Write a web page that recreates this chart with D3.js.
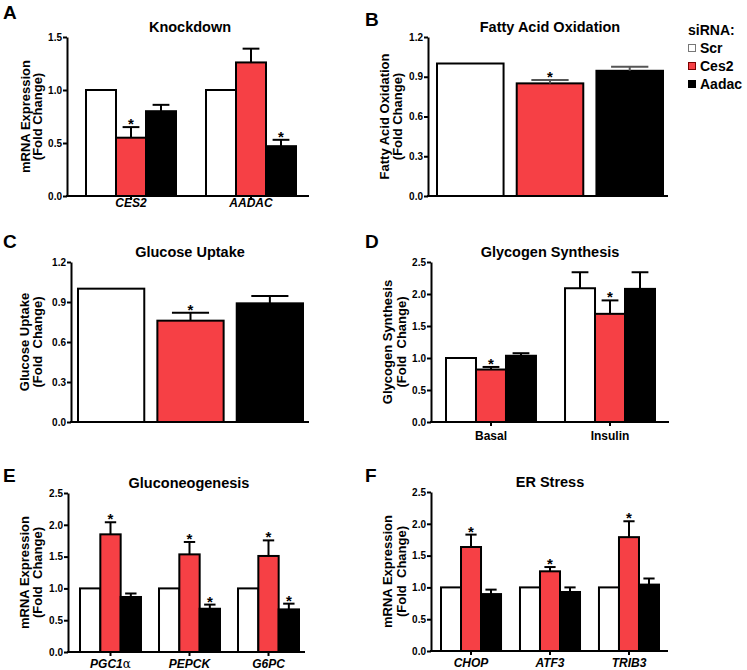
<!DOCTYPE html>
<html>
<head>
<meta charset="utf-8">
<script src="https://cdn.jsdelivr.net/npm/d3@7"></script>
<style>
body { margin: 0; background: #fff; }
svg text { font-family: "Liberation Sans", Arial, sans-serif; font-weight: bold; fill: #000; }
</style>
</head>
<body>
<div id="chart"></div>
<script>
// siRNA groups
const series = ["Scr", "Ces2", "Aadac"]
const fills = ["#ffffff", "#f64045", "#000000"]

// A - knockdown
const kdGenes = ["CES2", "AADAC"]
const kdMean = [[1.0, 0.55, 0.80], [1.0, 1.26, 0.47]]
const kdErr = [[0, 0.10, 0.06], [0, 0.13, 0.06]]
const kdSig = [[0, 1, 0], [0, 0, 1]]
const kdTicks = [0, 0.5, 1.0, 1.5]

// B - fatty acid oxidation
const faoMean = [[1.0, 0.85, 0.945]]
const faoErr = [[0, 0.025, 0.03]]
const faoSig = [[0, 1, 0]]
const faoTicks = [0, 0.3, 0.6, 0.9, 1.2]

// C - glucose uptake
const guMean = [[1.0, 0.76, 0.89]]
const guErr = [[0, 0.06, 0.055]]
const guSig = [[0, 1, 0]]
const guTicks = [0, 0.3, 0.6, 0.9, 1.2]

// D - glycogen synthesis
const gsGroups = ["Basal", "Insulin"]
const gsMean = [[1.0, 0.82, 1.035], [2.09, 1.69, 2.08]]
const gsErr = [[0, 0.04, 0.04], [0.25, 0.21, 0.26]]
const gsSig = [[0, 1, 0], [0, 1, 0]]
const gsTicks = [0, 0.5, 1.0, 1.5, 2.0, 2.5]

// E - gluconeogenesis
const gngGenes = ["PGC1α", "PEPCK", "G6PC"]
const gngMean = [[1.0, 1.85, 0.865], [1.0, 1.535, 0.68], [1.0, 1.51, 0.67]]
const gngErr = [[0, 0.19, 0.055], [0, 0.195, 0.065], [0, 0.245, 0.09]]
const gngSig = [[0, 1, 0], [0, 1, 1], [0, 1, 1]]
const gngTicks = [0, 0.5, 1.0, 1.5, 2.0, 2.5]

// F - ER stress
const erGenes = ["CHOP", "ATF3", "TRIB3"]
const erMean = [[1.0, 1.635, 0.895], [1.0, 1.253, 0.928], [1.0, 1.79, 1.044]]
const erErr = [[0, 0.195, 0.07], [0, 0.067, 0.072], [0, 0.25, 0.096]]
const erSig = [[0, 1, 0], [0, 1, 0], [0, 1, 0]]
const erTicks = [0, 0.5, 1.0, 1.5, 2.0, 2.5]

const svg = d3.select("#chart").append("svg")
  .attr("width", 747)
  .attr("height", 670)

const panels = [
  {letter: "A", lx: 3, ly: 19, title: "Knockdown", tx: 190, ty: 32,
   groups: kdGenes, mean: kdMean, err: kdErr, sig: kdSig, ticks: kdTicks, max: 1.5,
   axisX: 67, xEnd: 309, yTop: 37, yBot: 196, barStart: 86, barEnd: 296, groupPad: 0.25, barPad: 0,
   ylab: ["mRNA Expression", "(Fold Change)"], labX: [30, 42], xlabDy: 10.5, italic: true},
  {letter: "B", lx: 365, ly: 26, title: "Fatty Acid Oxidation", tx: 550, ty: 32,
   groups: [""], mean: faoMean, err: faoErr, sig: faoSig, ticks: faoTicks, max: 1.2,
   axisX: 428, xEnd: 668, yTop: 37, yBot: 196, barStart: 437, barEnd: 663, groupPad: 0, barPad: 0.165,
   ylab: ["Fatty Acid Oxidation", "(Fold Change)"], labX: [389, 402], xlabDy: null, errColor: "#555"},
  {letter: "C", lx: 3, ly: 248, title: "Glucose Uptake", tx: 190, ty: 257,
   groups: [""], mean: guMean, err: guErr, sig: guSig, ticks: guTicks, max: 1.2,
   axisX: 71, xEnd: 309, yTop: 262, yBot: 422, barStart: 78, barEnd: 303, groupPad: 0, barPad: 0.165,
   ylab: ["Glucose Uptake", "(Fold\u00a0 Change)"], labX: [29, 42], xlabDy: null},
  {letter: "D", lx: 365, ly: 248, title: "Glycogen Synthesis", tx: 550, ty: 257,
   groups: gsGroups, mean: gsMean, err: gsErr, sig: gsSig, ticks: gsTicks, max: 2.5,
   axisX: 431, xEnd: 669, yTop: 262, yBot: 422, barStart: 446, barEnd: 655, groupPad: 0.244, barPad: 0,
   ylab: ["Glycogen Synthesis", "(Fold\u00a0 Change)"], labX: [392, 406], xlabDy: 18, italic: false},
  {letter: "E", lx: 3, ly: 482, title: "Gluconeogenesis", tx: 189, ty: 488,
   groups: gngGenes, mean: gngMean, err: gngErr, sig: gngSig, ticks: gngTicks, max: 2.5,
   axisX: 68, xEnd: 305, yTop: 493, yBot: 652, barStart: 80, barEnd: 299, groupPad: 0.228, barPad: 0,
   ylab: ["mRNA Expression", "(Fold\u00a0 Change)"], labX: [29, 42], xlabDy: 15.5, italic: true},
  {letter: "F", lx: 365, ly: 482, title: "ER Stress", tx: 550, ty: 487,
   groups: erGenes, mean: erMean, err: erErr, sig: erSig, ticks: erTicks, max: 2.5,
   axisX: 431, xEnd: 668, yTop: 492, yBot: 651, barStart: 441, barEnd: 659, groupPad: 0.24, barPad: 0,
   ylab: ["mRNA Expression", "(Fold\u00a0 Change)"], labX: [392, 406], xlabDy: 16, italic: true}
]

function drawPanel(p) {
  const g = svg.append("g")

  const y = d3.scaleLinear().domain([0, p.max]).range([p.yBot, p.yTop])
  const x0 = d3.scaleBand().domain(p.groups).range([p.barStart, p.barEnd]).paddingInner(p.groupPad)
  const x1 = d3.scaleBand().domain(series).range([0, x0.bandwidth()]).paddingInner(p.barPad)

  // bars
  p.groups.forEach(function(grp, gi) {
    series.forEach(function(s, si) {
      const v = p.mean[gi][si], e = p.err[gi][si]
      const bx = x0(grp) + x1(s), bw = x1.bandwidth(), cx = bx + bw / 2
      g.append("rect")
        .attr("x", bx).attr("y", y(v))
        .attr("width", bw).attr("height", y(0) - y(v))
        .attr("fill", fills[si])
        .attr("stroke", "#000").attr("stroke-width", 2)
      let top = y(v)
      if (e > 0) {
        top = y(v + e)
        const cw = bw * 0.56
        g.append("line").attr("x1", cx).attr("x2", cx).attr("y1", y(v)).attr("y2", top)
          .attr("stroke", p.errColor || "#000").attr("stroke-width", 2)
        g.append("line").attr("x1", cx - cw / 2).attr("x2", cx + cw / 2).attr("y1", top).attr("y2", top)
          .attr("stroke", p.errColor || "#000").attr("stroke-width", 2)
      }
      if (p.sig[gi][si]) {
        g.append("text").attr("x", cx).attr("y", top + 2)
          .attr("text-anchor", "middle").attr("font-size", 15).text("*")
      }
    })
  })

  // y axis
  const ya = g.append("g")
    .attr("transform", `translate(${p.axisX},0)`)
    .attr("font-size", 10.5)
    .call(d3.axisLeft(y).tickValues(p.ticks).tickFormat(d3.format(".1f")).tickSize(4).tickSizeOuter(0).tickPadding(1))
  ya.select(".domain").attr("stroke-width", 2)
  ya.selectAll(".tick line").attr("stroke-width", 2)

  // x axis
  g.append("line")
    .attr("x1", p.axisX - 1).attr("x2", p.xEnd)
    .attr("y1", y(0)).attr("y2", y(0))
    .attr("stroke", "#000").attr("stroke-width", 2)

  if (p.xlabDy != null) {
    const xa = g.append("g")
      .attr("transform", `translate(0,${y(0)})`)
      .call(d3.axisBottom(x0).tickSize(4).tickFormat(""))
    xa.select(".domain").remove()
    xa.selectAll(".tick line").attr("stroke-width", 2)
    p.groups.forEach(function(grp) {
      const t = g.append("text")
        .attr("x", x0(grp) + x0.bandwidth() / 2)
        .attr("y", y(0) + p.xlabDy)
        .attr("text-anchor", "middle")
        .attr("font-size", 12)
      const m = grp.match(/^([^\u0370-\u03ff]*)([\u0370-\u03ff]*)$/)
      t.append("tspan").attr("font-style", p.italic ? "italic" : "normal").text(m[1])
      if (m[2]) t.append("tspan").attr("font-style", "normal").attr("font-family", "DejaVu Serif").attr("font-weight", "normal").text(m[2])
    })
  }

  // y label
  const cy = (p.yTop + p.yBot) / 2
  p.ylab.forEach(function(line, i) {
    g.append("text")
      .attr("transform", `translate(${p.labX[i]},${cy}) rotate(-90)`)
      .attr("text-anchor", "middle")
      .attr("font-size", 13)
      .text(line)
  })

  // title + panel letter
  g.append("text").attr("x", p.tx).attr("y", p.ty)
    .attr("text-anchor", "middle").attr("font-size", 14.5).text(p.title)
  g.append("text").attr("x", p.lx).attr("y", p.ly)
    .attr("font-size", 19).text(p.letter)
}

panels.forEach(drawPanel)

// legend
const legendStroke = ["#777", "#7a0000", "#000"]
const leg = svg.append("g").attr("transform", "translate(688,0)")
leg.append("text").attr("x", 0).attr("y", 35).attr("font-size", 14).text("siRNA:")
series.forEach(function(s, i) {
  leg.append("rect")
    .attr("x", 0.5).attr("y", 44.5 + i * 18)
    .attr("width", 7).attr("height", 7)
    .attr("fill", fills[i]).attr("stroke", legendStroke[i]).attr("stroke-width", 1)
  leg.append("text").attr("x", 12).attr("y", 53 + i * 18).attr("font-size", 14).text(s)
})
</script>
</body>
</html>
